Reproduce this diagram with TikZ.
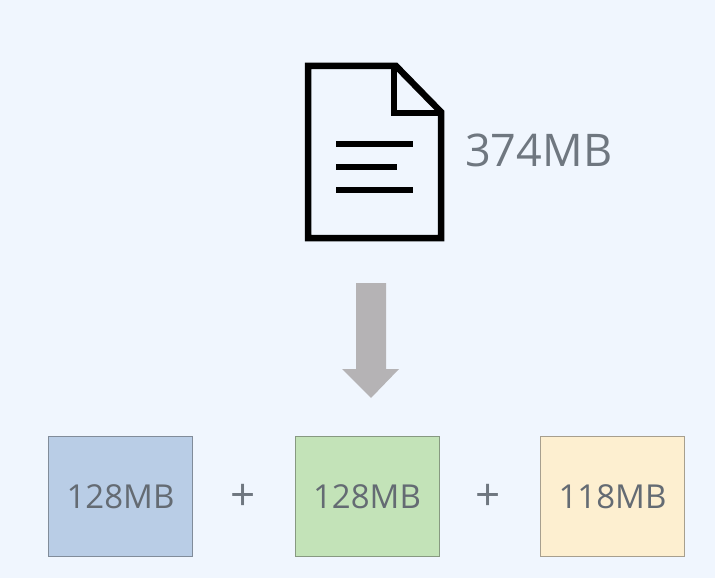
\documentclass[tikz,border=0pt]{standalone}
\usepackage{fontspec}
\setmainfont{Open Sans}
\definecolor{bgc}{HTML}{F0F6FE}
\definecolor{txtc}{HTML}{6F7780}
\definecolor{arrc}{HTML}{B5B3B5}
\definecolor{bluec}{HTML}{B9CDE6}
\definecolor{greenc}{HTML}{C3E3B8}
\definecolor{yellowc}{HTML}{FDEFD0}
\tikzset{
  icon/.style={draw=black,line width=6.5pt,line join=miter},
  iconline/.style={draw=black,line width=6.5pt},
  sizebox/.style={draw=#1!70!black!80!gray,line width=1pt,minimum width=144pt,minimum height=120pt,inner sep=0pt,outer sep=0pt,font=\fontsize{33}{33}\selectfont,text=txtc!90!black},
  plus/.style={font=\fontsize{44}{44}\selectfont,text=txtc,inner sep=0pt},
}
\begin{document}
\begin{tikzpicture}[x=1pt,y=-1pt]
\fill[bgc] (0,0) rectangle (715,578);
\useasboundingbox (0,0) rectangle (715,578);
% file icon
\draw[icon] (308,66) -- (396,66) -- (441,112) -- (441,238) -- (308,238) -- cycle;
\draw[icon] (394,66) -- (394,113) -- (441,113);
\draw[iconline] (336,144) -- (413,144);
\draw[iconline] (336,167) -- (397,167);
\draw[iconline] (336,190) -- (413,190);
\node[anchor=west,inner sep=0pt,text=txtc,font=\fontsize{45}{45}\selectfont] (size) at (465,150) {374MB};
% arrow
\fill[arrc] (356,283) -- (386,283) -- (386,369) -- (399,369) -- (371,398) -- (342,369) -- (356,369) -- cycle;
% boxes
\node[sizebox=bluec,fill=bluec] (a) at (120.5,496.5) {128MB};
\node[sizebox=greenc,fill=greenc] (b) at (367,496.5) {128MB};
\node[sizebox=yellowc,fill=yellowc] (c) at (612.5,496.5) {118MB};
\node[plus] (p1) at (243,497) {+};
\node[plus] (p2) at (488,497) {+};
\end{tikzpicture}
\end{document}
